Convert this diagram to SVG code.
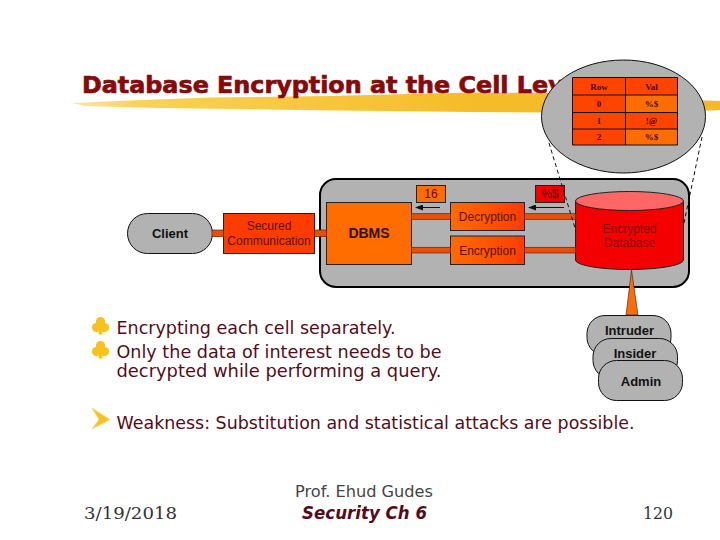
<svg xmlns="http://www.w3.org/2000/svg" xmlns:xlink="http://www.w3.org/1999/xlink" width="720" height="540" viewBox="0 0 720 540">
<style>
.ln{stroke:#111;stroke-width:1}
.gray{fill:#b2b2b2;stroke:#111;stroke-width:1}
.sans{font-family:"Liberation Sans",Arial,sans-serif;text-anchor:middle}
.lab{font-size:12px;fill:#5a1208}
.labb{font-size:13px;font-weight:bold;fill:#111}
.body{font-family:"DejaVu Sans",Verdana,sans-serif;font-size:18px;fill:#560c18}
.tb{font-family:"Liberation Serif",serif;font-size:9px;font-weight:bold;fill:#3a0c00;text-anchor:middle}
.foot{font-family:"DejaVu Serif",serif;font-size:16px;fill:#333}
.bar{fill:#e8500a;stroke:#6a2000;stroke-width:.7}
.dash{fill:none;stroke:#111;stroke-width:1;stroke-dasharray:4 3}
.wire{stroke:#111;stroke-width:1;fill:none}
</style>
<defs>
<linearGradient id="brush" x1="0" x2="1" y1="0" y2="0"><stop offset="0" stop-color="#fbe7a8"/><stop offset=".1" stop-color="#f9d257"/><stop offset=".6" stop-color="#f6bd2a"/><stop offset="1" stop-color="#f2b928"/></linearGradient>
<linearGradient id="crypt" x1="0" x2="1" y1="0" y2="0"><stop offset="0" stop-color="#ff6c00"/><stop offset="1" stop-color="#ff3c00"/></linearGradient>
<marker id="ah" markerWidth="8" markerHeight="6" refX="7" refY="3" orient="auto" markerUnits="userSpaceOnUse"><path d="M0 0L8 3L0 6Z" fill="#111"/></marker>
<g id="club"><circle cx="0" cy="-4.500" r="4.600" fill="#f8c21e"/><circle cx="-4" cy="1.500" r="4.600" fill="#f8c21e"/><circle cx="4" cy="1.500" r="4.600" fill="#f8c21e"/><path d="M-1.200 -2H1.200L2 8.500H-2Z" fill="#f8c21e"/></g>
</defs>
<rect width="720" height="540" fill="#fff"/>
<g id="title">
<path d="M72 103L130 100.500L210 97.500L330 96L470 92.500L570 93L690 100L720 101V110L650 113L470 112L300 110L160 108L85 106Z" fill="url(#brush)"/>
<text x="82" y="93" font-family="DejaVu Sans,Verdana,sans-serif" font-weight="bold" font-size="23px" stroke="#870a0a" stroke-width=".7" fill="#870a0a" textLength="506" lengthAdjust="spacingAndGlyphs">Database Encryption at the Cell Level</text>
</g>
<g id="system">
<rect x="320" y="179" width="369" height="108" rx="16" fill="#b2b2b2" stroke="#000" stroke-width="2"/>
</g>
<g id="client">
<rect class="gray" x="127.500" y="213.500" width="85" height="40" rx="20"/>
<text class="sans labb" x="170" y="237.500">Client</text>
</g>
<g id="secured">
<rect x="223.500" y="213.500" width="91" height="40" fill="#ff3c00" stroke="#222"/>
<text class="sans lab" x="269" y="230">Secured</text>
<text class="sans lab" x="269" y="245">Communication</text>
</g>
<g id="dbms">
<rect x="326.500" y="202.500" width="85" height="62" fill="#ff6c00" stroke="#222"/>
<text class="sans" x="369" y="237.500" font-size="14px" font-weight="bold" fill="#331000">DBMS</text>
</g>
<g id="val16">
<rect x="416.500" y="185.500" width="29" height="17" fill="#ff6c00" stroke="#222"/>
<text class="sans lab" x="431" y="198">16</text>
</g>
<g id="valenc">
<rect x="535.500" y="185.500" width="29" height="17" fill="#f00000" stroke="#222"/>
<text class="sans lab" x="550" y="198">%$</text>
</g>
<g id="decryption">
<rect x="450.500" y="202.500" width="74" height="28" fill="url(#crypt)" stroke="#222"/>
<text class="sans lab" x="487.500" y="221">Decryption</text>
</g>
<g id="encryption">
<rect x="450.500" y="236" width="74" height="28.500" fill="url(#crypt)" stroke="#222"/>
<text class="sans lab" x="487.500" y="255">Encryption</text>
</g>
<g id="database">
<path d="M575.500 201V260A54 9.500 0 0 0 683.500 260V201Z" fill="#f40000" stroke="#222"/>
<ellipse cx="629.500" cy="201" rx="54" ry="9.500" fill="#ff6666" stroke="#222"/>
<text class="sans" x="629.500" y="233" font-size="12px" fill="#800a0a">Encrypted</text>
<text class="sans" x="629.500" y="247" font-size="12px" fill="#800a0a">Database</text>
</g>
<g id="zoom">
<ellipse cx="623.500" cy="116.500" rx="82" ry="56.500" fill="#b2b2b2" stroke="#111"/>
<rect x="572.500" y="77.500" width="53" height="67.500" fill="#ff4400"/>
<rect x="625.500" y="77.500" width="52" height="67.500" fill="#ff4400"/>
<rect x="625.500" y="95" width="52" height="17" fill="#ff6c00"/>
<rect x="625.500" y="129" width="52" height="16" fill="#ff6c00"/>
<path class="ln" fill="none" d="M572.500 77.500H677.500V145H572.500ZM625.500 77.500V145M572.500 95H677.500M572.500 112.500H677.500M572.500 129H677.500"/>
<text class="tb" x="599" y="90">Row</text><text class="tb" x="651.500" y="90">Val</text>
<text class="tb" x="599" y="107">0</text><text class="tb" x="651.500" y="107">%$</text>
<text class="tb" x="599" y="124">1</text><text class="tb" x="651.500" y="124">!@</text>
<text class="tb" x="599" y="140">2</text><text class="tb" x="651.500" y="140">%$</text>
</g>
<g id="intruder">
<rect class="gray" x="587" y="315.500" width="84" height="40" rx="18"/>
<text class="sans" x="629.500" y="335" font-size="13px" font-weight="bold" fill="#111">Intruder</text>
</g>
<g id="insider">
<rect class="gray" x="593" y="338.500" width="84.500" height="40" rx="18"/>
<text class="sans" x="635" y="358" font-size="13px" font-weight="bold" fill="#111">Insider</text>
</g>
<g id="admin">
<rect class="gray" x="598.500" y="360.500" width="84" height="40" rx="18"/>
<text class="sans" x="641" y="385.500" font-size="13px" font-weight="bold" fill="#111">Admin</text>
</g>
<g id="connectors">
<rect class="bar" x="212" y="230" width="11.500" height="6.500"/>
<rect class="bar" x="314.500" y="230" width="12" height="6.500"/>
<rect class="bar" x="411.500" y="213.700" width="39" height="5.600"/>
<rect class="bar" x="411.500" y="247.300" width="39" height="5.700"/>
<rect class="bar" x="524.500" y="213.700" width="51" height="5.600"/>
<rect class="bar" x="524.500" y="247.300" width="51" height="5.700"/>
<path d="M440 207.500H416" class="wire" marker-end="url(#ah)"/>
<path d="M564 207.500H529" class="wire" marker-end="url(#ah)"/>
<path d="M631.500 270L626 315H638Z" fill="#ff6c0a" stroke="#222" stroke-width=".6"/>
<path class="dash" d="M549 143L575 228"/>
<path class="dash" d="M702 137L684 223"/>
</g>
<g id="bullets">
<use xlink:href="#club" href="#club" x="100.500" y="326"/>
<use xlink:href="#club" href="#club" x="100.500" y="350"/>
<path d="M92 408L110 419.500L92 429L99 419.500Z" fill="#f8c21e" stroke="#f3dc90" stroke-width="1"/>
<text class="body" x="116.500" y="334" textLength="279" lengthAdjust="spacingAndGlyphs">Encrypting each cell separately.</text>
<text class="body" x="116.500" y="358" textLength="325" lengthAdjust="spacingAndGlyphs">Only the data of interest needs to be</text>
<text class="body" x="116.500" y="377" textLength="325" lengthAdjust="spacingAndGlyphs">decrypted while performing a query.</text>
<text class="body" x="116.500" y="429" textLength="518" lengthAdjust="spacingAndGlyphs">Weakness: Substitution and statistical attacks are possible.</text>
</g>
<g id="footer">
<text class="foot" x="84" y="519" textLength="93" lengthAdjust="spacingAndGlyphs">3/19/2018</text>
<text x="295" y="497" font-family="DejaVu Sans,sans-serif" font-size="16px" fill="#444" textLength="138" lengthAdjust="spacingAndGlyphs">Prof. Ehud Gudes</text>
<text x="302" y="519" font-family="DejaVu Sans,sans-serif" font-size="17px" font-weight="bold" font-style="italic" fill="#560c18" textLength="125" lengthAdjust="spacingAndGlyphs">Security  Ch 6</text>
<text class="foot" x="643" y="519" textLength="30" lengthAdjust="spacingAndGlyphs">120</text>
</g>
</svg>
